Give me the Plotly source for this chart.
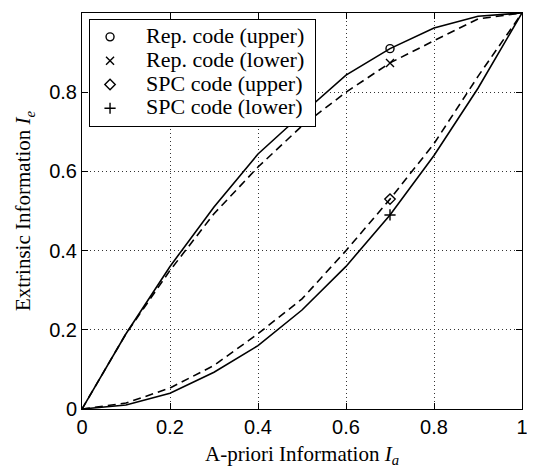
import plotly.graph_objects as go

x_vals = [0, 0.1, 0.2, 0.3, 0.4, 0.5, 0.6, 0.7, 0.8, 0.9, 1.0]
rep_upper = [0, 0.19, 0.36, 0.51, 0.644, 0.745, 0.843, 0.91, 0.962, 0.992, 1.0]
rep_lower = [0, 0.19, 0.35, 0.493, 0.611, 0.715, 0.80, 0.874, 0.93, 0.985, 1.0]
spc_upper = [0, 0.015, 0.053, 0.11, 0.19, 0.278, 0.40, 0.53, 0.67, 0.84, 1.0]
spc_lower = [0, 0.01, 0.04, 0.093, 0.16, 0.25, 0.36, 0.49, 0.64, 0.81, 1.0]

marker_x = 0.7
series_names = ["Rep. code (upper)", "Rep. code (lower)", "SPC code (upper)", "SPC code (lower)"]
series_data = [rep_upper, rep_lower, spc_upper, spc_lower]
series_dash = ["solid", "8px,5px", "8px,5px", "solid"]
series_symbols = ["circle-open", "x-thin-open", "diamond-open", "cross-thin-open"]
tick_vals = [0, 0.2, 0.4, 0.6, 0.8, 1]
tick_text = ["0", "0.2", "0.4", "0.6", "0.8", "1"]

fig = go.Figure()
for name, ys, dash in zip(series_names, series_data, series_dash):
    fig.add_trace(go.Scatter(x=x_vals, y=ys, mode="lines", showlegend=False,
                             line=dict(color="black", width=1.6, dash=dash)))

idx = x_vals.index(marker_x)
pad = "\u00a0" * 4
for name, ys, sym in zip(series_names, series_data, series_symbols):
    fig.add_trace(go.Scatter(
        x=[marker_x], y=[ys[idx]], mode="markers",
        name=pad + "<span style='font-size:22px'>" + name + "\u00a0</span>",
        marker=dict(symbol=sym, size=8, color="black",
                    line=dict(color="black", width=1.4))))

axis_common = dict(
    range=[0, 1], tickvals=tick_vals, ticktext=tick_text,
    showgrid=True, gridcolor="#333333", griddash="1px,3px", gridwidth=1,
    showline=True, linecolor="black", linewidth=1, mirror="ticks",
    ticks="inside", ticklen=6, tickcolor="black",
    tickfont=dict(family="Liberation Sans", size=20, color="black"),
    zeroline=False, automargin=False,
)

fig.update_xaxes(**axis_common,
                 title=dict(text="A-priori Information <i>I</i><sub><i>a</i></sub>",
                            font=dict(family="Liberation Serif", size=21, color="black"),
                            standoff=10))
fig.update_yaxes(**axis_common,
                 title=dict(text="Extrinsic Information <i>I</i><sub><i>e</i></sub>",
                            font=dict(family="Liberation Serif", size=21, color="black"),
                            standoff=12))

fig.update_layout(
    width=527, height=460,
    margin=dict(l=74, r=13, t=5, b=59),
    plot_bgcolor="white", paper_bgcolor="white",
    legend=dict(x=0.016, y=0.985, xanchor="left", yanchor="top",
                bgcolor="white", bordercolor="black", borderwidth=1,
                font=dict(family="Liberation Serif", size=16, color="black"),
                tracegroupgap=0, itemwidth=30),
)

fig.write_html("out.html")
